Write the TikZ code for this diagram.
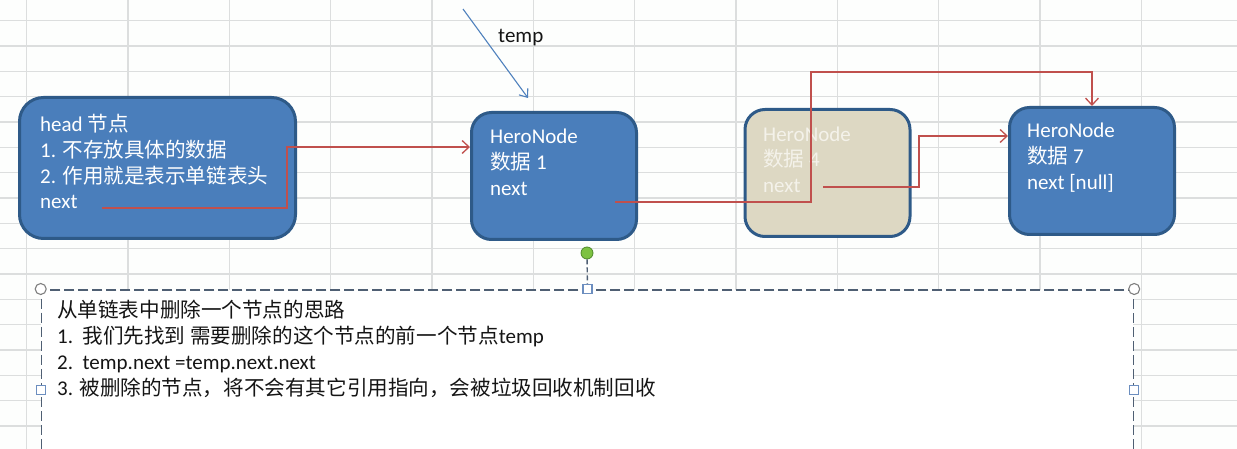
\documentclass[tikz,border=0pt]{standalone}
\usepackage{fontspec}
\setmainfont{Carlito}
\newfontfamily\cjk[Scale=0.98]{Noto Sans CJK SC}
\usetikzlibrary{arrows.meta}
\definecolor{bgc}{HTML}{FDFEFD}
\definecolor{gridc}{HTML}{DCDEDE}
\definecolor{nodefill}{HTML}{4A7EBB}
\definecolor{nodeborder}{HTML}{2E5A88}
\definecolor{beigefill}{HTML}{DDD8C3}
\definecolor{beigetext}{HTML}{F4F2EA}
\definecolor{linkred}{HTML}{C0504D}
\definecolor{tempblue}{HTML}{4F81BD}
\definecolor{dashc}{HTML}{4F5F73}
\definecolor{handlec}{HTML}{7F7F7F}
\definecolor{handlesq}{HTML}{6C8EBF}
\definecolor{rotgreen}{HTML}{7DC242}
\definecolor{rotgreenb}{HTML}{4F8A2B}
\definecolor{textc}{HTML}{151515}
\tikzset{
  gridline/.style={draw=gridc, line width=1.1pt},
  hero/.style={draw=nodeborder, line width=3pt, fill=nodefill, rounded corners=20pt,
    inner sep=0pt, minimum width=165pt, minimum height=127pt},
  deleted/.style={hero, fill=beigefill},
  txt/.style={anchor=base west, inner sep=0pt, font=\fontsize{21}{25}\selectfont, text=white},
  faded/.style={txt, text=beigetext},
  notetxt/.style={txt, text=textc},
  link/.style={draw=linkred, line width=1.3pt, -{Straight Barb[length=7pt,width=13pt,line width=1.3pt]}},
  tempptr/.style={draw=tempblue, line width=1.1pt, -{Straight Barb[length=7pt,width=11pt,line width=1.1pt]}},
  notebox/.style={draw=dashc, fill=white, line width=1.5pt, dash pattern=on 10pt off 4pt,
    inner sep=0pt, anchor=north west},
  roundhandle/.style={circle, draw=handlec, fill=white, line width=1.1pt, inner sep=0pt, minimum size=11pt},
  squarehandle/.style={rectangle, draw=handlesq, fill=white, line width=1.1pt, inner sep=0pt, minimum size=9pt},
  rothandle/.style={circle, draw=rotgreenb, fill=rotgreen, line width=0.8pt, inner sep=0pt, minimum size=12pt},
}
\begin{document}
\begin{tikzpicture}[x=1pt,y=-1pt]
\useasboundingbox (0,0) rectangle (1237,449);
\clip (0,0) rectangle (1237,449);
\fill[bgc] (0,0) rectangle (1237,449);
% spreadsheet grid
\foreach \i in {0,...,11} \draw[gridline] ({26.7+101.33*\i},0) -- ({26.7+101.33*\i},449);
\foreach \j in {0,...,16} \draw[gridline] (0,{20.7+25.33*\j}) -- (1237,{20.7+25.33*\j});

% list nodes
\node[hero, minimum width=276pt, minimum height=141pt, rounded corners=24pt] (head) at (157.5,168) {};
\node[hero] (n1) at (554,176) {};
\node[deleted] (n4) at (827.5,173) {};
\node[hero] (n7) at (1092,171) {};

% node texts
\node[txt] (h1) at (40,132) {head {\cjk 节点}};
\node[txt] (h2) at (40,158) {1. {\cjk 不存放具体的数据}};
\node[txt] (h3) at (40,183.5) {2. {\cjk 作用就是表示单链表头}};
\node[txt] (h4) at (40,209) {next};

\node[txt] (a1) at (490,144) {HeroNode};
\node[txt] (a2) at (490,170) {{\cjk 数据} 1};
\node[txt] (a3) at (490,196) {next};

\node[faded] (b1) at (763,141.5) {HeroNode};
\node[faded] (b2) at (763,167) {{\cjk 数据} 4};
\node[faded] (b3) at (763,193) {next};

\node[txt] (c1) at (1027,138) {HeroNode};
\node[txt] (c2) at (1027,164) {{\cjk 数据} 7};
\node[txt] (c3) at (1027,190) {next [null]};

% links
\coordinate (headout) at (102,208);
\coordinate (n1out) at (615,202);
\coordinate (n4out) at (823,187);
\draw[link] (headout) -| (287,147) -- (n1.west |- 0,147);
\draw[link] (n1out) -| (811,72) -| (n7.north);
\draw[link] (n4out) -| (919,136) -- (n7.west |- 0,136);

% temp pointer
\coordinate (tempfrom) at (463,9);
\coordinate (tempto) at (528,98);
\draw[tempptr] (tempfrom) -- (tempto);
\node[notetxt] (templabel) at (498,43) {temp};

% note box
\node[notebox, minimum width=1092pt, minimum height=201pt] (note) at (40.7,289) {};
\node[roundhandle] (hnw) at (note.north west) {};
\node[roundhandle] (hne) at (note.north east) {};
\node[squarehandle] (hn) at (note.north) {};
\node[squarehandle] (hw) at (note.west) {};
\node[squarehandle] (he) at (note.east) {};
\node[rothandle] (rot) at (587,253) {};
\draw[draw=dashc, line width=1.4pt, dash pattern=on 5pt off 3pt] (rot) -- (hn);

\node[notetxt] (t1) at (57,317) {{\cjk 从单链表中删除一个节点的思路}};
\node[notetxt] (t2) at (57,343) {1.\ \ {\cjk 我们先找到 需要删除的这个节点的前一个节点}temp};
\node[notetxt] (t3) at (57,369.5) {2.\ \ temp.next =temp.next.next};
\node[notetxt] (t4) at (57,395) {3. {\cjk 被删除的节点，将不会有其它引用指向，会被垃圾回收机制回收}};
\end{tikzpicture}
\end{document}
